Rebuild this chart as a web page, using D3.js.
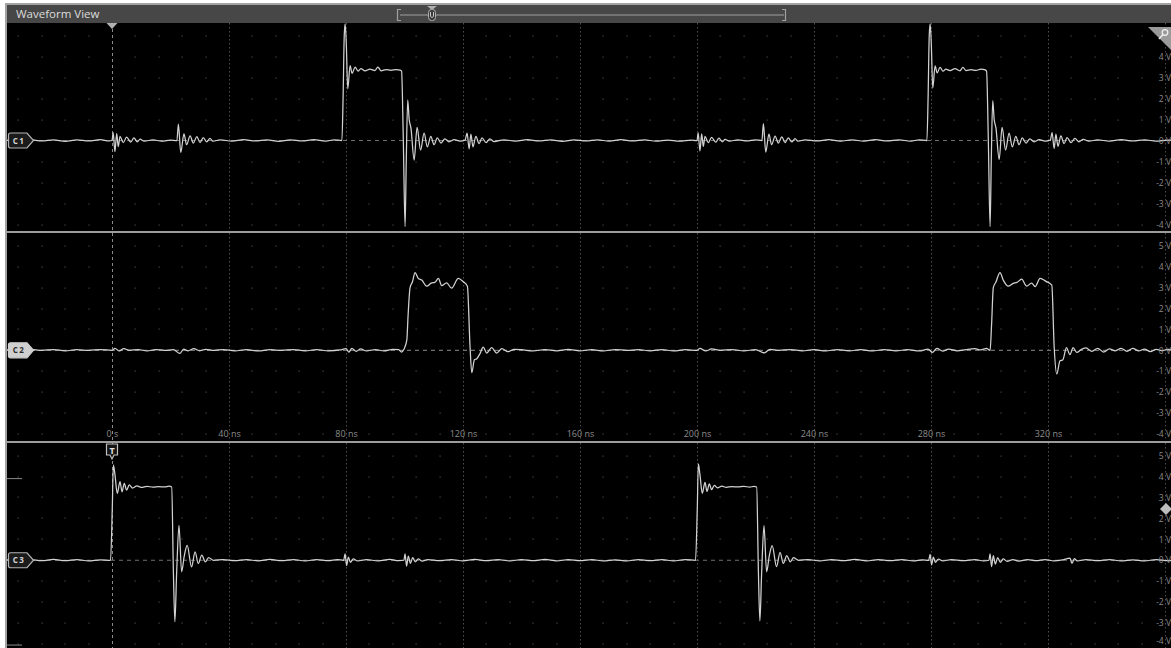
<!DOCTYPE html>
<html>
<head>
<meta charset="utf-8">
<script src="https://cdn.jsdelivr.net/npm/d3@7"></script>
<style>
  html, body { margin: 0; padding: 0; background: #fff; overflow: hidden; }
  svg { display: block; }
</style>
</head>
<body>
<svg id="scope" width="1171" height="648"></svg>
<script>
// ---- axis ticks ----
const timeTicks = [0, 40, 80, 120, 160, 200, 240, 280, 320];      // ns
const voltTicksC1 = [-4, -3, -2, -1, 0, 1, 2, 3, 4];                // V
const voltTicksC2 = [-4, -3, -2, -1, 0, 1, 2, 3, 4, 5];
const voltTicksC3 = [-4, -3, -2, -1, 0, 1, 2, 3, 4, 5];
const channelNames = ["C1", "C2", "C3"];
const triggerTime = 0;      // ns
const triggerLevelC3 = 2.45; // V

// ---- acquired samples: [time ns, volts] ----
const ch1 = [
  [-36,0.02],[-32,-0.03],[-28,0.04],[-24,-0.02],[-20,0.03],[-16,-0.04],[-12,0.03],[-8,-0.02],[-4,0.04],[-1,-0.02],
  [0,0.0],[0.4,0.37],[1.0,-0.53],[1.6,0.33],[2.15,-0.29],[2.75,0.2],[3.85,-0.1],[5.0,0.16],[6.4,-0.08],[7.5,0.12],[8.65,-0.06],[9.6,0.06],[11,-0.03],
  [14,0.03],[17,-0.03],[20,0.02],[22.2,0.0],[22.7,0.78],[23.5,-0.57],[24.6,0.31],[25.5,-0.2],[26.7,0.22],[27.8,-0.12],[29.0,0.18],[30.1,-0.1],[31.2,0.14],[32.4,-0.07],[33.5,0.1],[34.5,-0.03],
  [37,0.03],[41,-0.03],[45,0.04],[49,-0.02],[53,0.03],[57,-0.04],[61,0.03],[65,-0.02],[69,0.04],[73,-0.03],[76,0.03],[78.6,0.0],
  [79.0,2.0],[79.4,5.0],[79.7,5.55],[80.1,4.6],[80.6,2.46],[81.4,3.56],[82.1,3.2],[83.1,3.5],[84.1,3.3],[85.1,3.42],[86.5,3.32],[88.2,3.4],[89.9,3.33],[90.9,3.5],[92,3.32],[93.7,3.38],[95.4,3.34],[97.1,3.38],[98.5,3.35],[99.0,3.3],
  [99.6,0.0],[100.2,-4.1],[100.6,-1.0],[101.1,1.93],[101.6,1.0],[102.2,0.6],[103.3,-0.93],[104.3,0.63],[105.5,-0.45],[106.7,0.35],[107.8,-0.3],[109,0.2],[110.1,-0.2],[111.2,0.12],[112.5,-0.12],[113.8,0.08],[115.2,-0.06],[117,0.04],[119,-0.03],
  [120.7,0.02],[121.4,0.35],[122.1,-0.4],[122.7,0.3],[123.4,-0.3],[124.4,0.2],[125.5,-0.15],[126.5,0.12],[127.9,-0.1],[129.2,0.08],[130.6,-0.05],
  [134,0.03],[138,-0.03],[142,0.04],[146,-0.02],[150,0.03],[154,-0.04],[158,0.03],[162,-0.02],[166,0.03],[170,-0.03],[174,0.04],[178,-0.02],[182,0.03],[186,-0.03],[190,0.02],[194,-0.03],[198,0.02],
  [200,0.0],[200.4,0.36],[201.0,-0.5],[201.6,0.32],[202.15,-0.28],[202.75,0.2],[203.85,-0.1],[205.0,0.15],[206.4,-0.08],[207.5,0.11],[208.65,-0.06],[209.6,0.05],[211,-0.03],
  [214,0.03],[217,-0.02],[220,0.03],[222.2,0.0],[222.7,0.8],[223.5,-0.55],[224.6,0.3],[225.5,-0.2],[226.7,0.21],[227.8,-0.12],[229,0.17],[230.1,-0.1],[231.2,0.13],[232.4,-0.07],[233.5,0.09],[234.5,-0.03],
  [237,0.03],[241,-0.02],[245,0.04],[249,-0.03],[253,0.03],[257,-0.03],[261,0.04],[265,-0.02],[269,0.03],[273,-0.03],[276,0.03],[278.6,0.0],
  [279.0,2.0],[279.4,5.0],[279.7,5.55],[280.1,4.6],[280.6,2.5],[281.4,3.55],[282.1,3.22],[283.1,3.48],[284.1,3.3],[285.1,3.4],[286.5,3.33],[288.2,3.42],[289.9,3.32],[290.9,3.48],[292,3.33],[293.7,3.37],[295.4,3.34],[297.1,3.4],[298.5,3.36],[299.0,3.3],
  [299.6,0.0],[300.2,-4.1],[300.6,-1.0],[301.1,1.9],[301.6,1.0],[302.2,0.6],[303.3,-0.9],[304.3,0.62],[305.5,-0.45],[306.7,0.35],[307.8,-0.3],[309,0.2],[310.1,-0.2],[311.2,0.12],[312.5,-0.12],[313.8,0.08],[315.2,-0.06],[317,0.04],[319,-0.03],
  [320.8,0.02],[321.4,0.38],[322.1,-0.38],[322.7,0.3],[323.4,-0.28],[324.4,0.22],[325.5,-0.15],[326.5,0.14],[327.9,-0.1],[329.2,0.1],[330.6,-0.06],[332,0.05],[334,-0.03],
  [337,0.03],[341,-0.03],[345,0.04],[349,-0.02],[353,0.03],[357,-0.03],[361,0.02],[363,0.0]
];

const ch2 = [
  [-36,0.02],[-32,-0.02],[-28,0.05],[-24,0.0],[-20,0.04],[-16,-0.02],[-12,0.03],[-8,0.0],[-4,0.04],[0,0.0],[1,0.1],[2.5,-0.03],[4,0.08],[6,0.0],[9,0.04],[12,-0.03],[15,0.04],[18,0.0],[21,0.03],[23.2,-0.15],[24.5,0.06],[26,-0.02],[28,0.08],[30,-0.02],[32,0.05],[35,0.0],[38,0.04],[42,-0.02],[46,0.03],[50,-0.03],[54,0.03],[58,0.0],[62,0.04],[66,-0.02],[70,0.03],[74,-0.02],[78,0.02],[80,0.08],[81,-0.08],[82,0.1],[83.5,-0.05],[85,0.07],[87,-0.03],[90,0.04],[93,-0.03],[96,0.05],[98,0.03],[99.0,-0.08],[99.8,0.05],
  [100.8,0.5],[101.2,1.6],[101.9,3.0],[102.7,3.27],[103.6,3.72],[104.7,3.44],[105.9,3.36],[107.6,3.07],[109.3,3.23],[110.4,3.25],[111.6,3.44],[112.7,3.1],[114.4,3.23],[116.1,2.97],[118.4,3.44],[120.1,3.28],[121.5,3.07],
  [122.4,0.2],[123.0,-1.07],[123.9,-0.45],[124.7,-0.4],[125.8,-0.16],[126.9,0.16],[128.1,-0.13],[129.8,0.13],[131.5,-0.13],[133.3,0.08],[135.4,-0.06],[137.5,0.05],
  [140,0.03],[144,-0.03],[148,0.04],[152,-0.02],[156,0.05],[160,-0.02],[164,0.03],[168,-0.03],[172,0.04],[176,0.0],[180,0.03],[184,-0.02],[188,0.04],[192,-0.03],[196,0.03],[200,0.0],[201,0.09],[203,-0.03],[205,0.07],[208,0.0],[212,0.04],[216,-0.03],[220,0.04],[223,-0.12],[225,0.05],[228,0.0],[232,0.04],[236,-0.02],[240,0.03],[244,-0.03],[248,0.04],[252,-0.02],[256,0.03],[260,-0.03],[264,0.04],[268,-0.02],[272,0.03],[276,-0.03],[279,0.06],[280.5,-0.1],[282,0.09],[284,-0.04],[286,0.06],[289,-0.02],[292,0.04],[295,0.08],[297,0.02],[299,0.09],[300.2,0.0],
  [300.7,1.2],[301.3,3.0],[302.2,3.27],[303.6,3.72],[304.7,3.36],[306.4,3.07],[308.1,3.2],[309.4,3.25],[311.0,3.4],[312.7,3.07],[314.4,3.22],[315.6,3.05],[317.3,3.44],[319.3,3.3],[321.3,3.12],
  [322.1,0.2],[323.0,-1.13],[324.1,-0.5],[325.1,-0.45],[326.3,0.13],[327.5,-0.2],[328.6,0.13],[329.8,-0.1],[331.5,0.05],
  [333,0.12],[335,-0.05],[337,0.1],[339,-0.08],[341,0.07],[343,-0.02],[345,0.1],[347,-0.05],[349,0.1],[351,-0.03],[353,0.06],[355,-0.06],[357,0.05],[359,-0.02],[361,0.05],[363,0.0]
];

const ch3 = [
  [-36,0.02],[-32,-0.03],[-28,0.03],[-24,-0.02],[-20,0.04],[-16,-0.02],[-12,0.03],[-8,-0.03],[-4,0.02],[-0.5,0.0],
  [0.1,2.5],[0.46,4.55],[1.0,4.1],[1.8,3.19],[2.74,3.75],[3.42,3.27],[4.2,3.67],[5.0,3.35],[5.9,3.6],[7.0,3.45],[8.5,3.55],[10,3.48],[12,3.53],[14,3.49],[16,3.52],[18,3.5],[19.5,3.54],[20.4,3.5],
  [21.0,-0.63],[21.5,-2.94],[22.1,-0.6],[22.9,1.67],[23.8,-0.55],[24.7,0.2],[25.7,0.71],[27.2,-0.32],[28.4,0.4],[29.5,-0.16],[30.7,0.24],[31.9,-0.08],[33.0,0.13],[34.7,0.0],
  [38,0.03],[42,-0.02],[46,0.03],[50,-0.03],[54,0.04],[58,-0.02],[62,0.03],[66,-0.03],[70,0.03],[74,-0.02],[77,0.03],[79.2,0.0],
  [79.7,0.3],[80.2,-0.25],[80.8,0.15],[81.5,-0.1],[82.5,0.06],[84,-0.03],
  [87,0.03],[91,-0.03],[95,0.04],[98,-0.02],[99.8,0.0],[100.2,0.3],[100.7,-0.28],[101.3,0.2],[102,-0.15],[102.8,0.12],[103.7,-0.08],[104.7,0.06],[106,-0.04],[108,0.03],
  [112,-0.02],[116,0.03],[120,-0.03],[124,0.04],[128,-0.02],[132,0.03],[136,-0.03],[140,0.03],[144,-0.02],[148,0.04],[152,-0.03],[156,0.03],[160,-0.02],[164,0.03],[168,-0.03],[172,0.02],[176,-0.03],[180,0.03],[184,-0.02],[188,0.03],[192,-0.03],[196,0.03],[199.5,0.0],
  [200.1,2.5],[200.46,4.6],[201.0,4.1],[201.8,3.2],[202.74,3.72],[203.42,3.28],[204.2,3.65],[205.0,3.37],[205.9,3.58],[207.0,3.46],[208.5,3.54],[210,3.48],[212,3.52],[214,3.5],[216,3.53],[218,3.49],[219.5,3.53],[220.4,3.5],
  [221.0,-0.6],[221.5,-2.9],[222.1,-0.6],[222.9,1.65],[223.8,-0.55],[224.7,0.2],[225.7,0.7],[227.2,-0.3],[228.4,0.38],[229.5,-0.15],[230.7,0.22],[231.9,-0.08],[233,0.12],[234.7,0.0],
  [238,0.03],[242,-0.03],[246,0.03],[250,-0.02],[254,0.04],[258,-0.03],[262,0.03],[266,-0.02],[270,0.03],[274,-0.03],[277,0.02],[279.2,0.0],
  [279.7,0.28],[280.2,-0.22],[280.8,0.15],[281.5,-0.1],[282.5,0.05],[284,-0.03],
  [287,0.03],[291,-0.02],[295,0.03],[298,-0.03],[299.8,0.0],[300.2,0.3],[300.7,-0.3],[301.3,0.22],[302,-0.18],[302.8,0.12],[303.7,-0.1],[304.7,0.06],[306,-0.05],[308,0.03],
  [310,-0.04],[313,0.03],[316,-0.02],[319,0.03],[322,-0.03],[325,0.02],[327.5,0.1],[328.2,-0.15],[329,0.08],[330,-0.03],[333,0.03],[337,-0.02],[341,0.03],[345,-0.03],[349,0.02],[353,-0.03],[357,0.03],[361,-0.02],[363,0.0]
];

// ---- layout ----
const W = 1171, H = 648;
const plotLeft = 7, plotRight = W;
const FONT = "'Open Sans', 'DejaVu Sans', sans-serif";

const panels = [
  { name: channelNames[0], data: ch1, ticks: voltTicksC1, top: 23,  bottom: 231, yTop4: 56.5,  yBotM4: 224.5, badgeFilled: false },
  { name: channelNames[1], data: ch2, ticks: voltTicksC2, top: 233, bottom: 441, yTop4: 266.7, yBotM4: 434,   badgeFilled: true  },
  { name: channelNames[2], data: ch3, ticks: voltTicksC3, top: 443, bottom: 648, yTop4: 476.5, yBotM4: 644,   badgeFilled: false }
];

const x = d3.scaleLinear().domain([0, 320]).range([112, 1048]);
const tMin = x.invert(plotLeft), tMax = x.invert(plotRight);

const svg = d3.select("#scope");

// frame, title bar and screen
svg.append("rect").attr("x", 5).attr("y", 3).attr("width", W - 5).attr("height", H - 3).attr("fill", "#a3a3a3");
svg.append("rect").attr("x", 7).attr("y", 5).attr("width", W - 7).attr("height", 18).attr("fill", "#474747");
svg.append("rect").attr("x", plotLeft).attr("y", 23).attr("width", W - plotLeft).attr("height", H - 23).attr("fill", "#000");

svg.append("text").attr("x", 16).attr("y", 18)
  .attr("font-family", FONT).attr("font-size", 11.5).attr("fill", "#dcdcdc")
  .text("Waveform View");

// overview / zoom bar in the title strip
const ov = svg.append("g").attr("stroke", "#a0a0a0").attr("fill", "none").attr("stroke-width", 1.2);
ov.append("line").attr("x1", 400).attr("x2", 784).attr("y1", 15).attr("y2", 15);
ov.append("path").attr("d", "M401,9.5 H397.5 V20.5 H401");
ov.append("path").attr("d", "M782,9.5 H785.5 V20.5 H782");
svg.append("path").attr("d", "M427,6 L437,6 L432,10 Z").attr("fill", "#b0b0b0");
svg.append("rect").attr("x", 428.5).attr("y", 9.5).attr("width", 7).attr("height", 11).attr("rx", 3)
  .attr("fill", "#3a3a3a").attr("stroke", "#b0b0b0").attr("stroke-width", 1);
svg.append("path").attr("d", "M430.5,12 V16.5 Q432,18.5 433.5,16.5 V12").attr("fill", "none").attr("stroke", "#c8c8c8").attr("stroke-width", 1);

const defs = svg.append("defs");
const minorTimes = d3.range(-32, 362, 8).filter(t => t % 40 !== 0);

panels.forEach((p, i) => {
  const y = d3.scaleLinear().domain([-4, 4]).range([p.yBotM4, p.yTop4]);
  const clipId = "clip" + i;
  defs.append("clipPath").attr("id", clipId)
    .append("rect").attr("x", plotLeft).attr("y", p.top).attr("width", W - plotLeft).attr("height", p.bottom - p.top);

  const g = svg.append("g").attr("clip-path", `url(#${clipId})`);

  // grid: dots at every minor time division and every volt
  const vRows = d3.range(-5, 7).filter(v => v !== 0);
  const dots = [];
  minorTimes.forEach(t => vRows.forEach(v => dots.push([t, v])));
  g.append("g").selectAll("rect").data(dots).join("rect")
    .attr("x", d => Math.round(x(d[0])) - 0.5).attr("y", d => Math.round(y(d[1])) - 0.5)
    .attr("width", 1.2).attr("height", 1.2).attr("fill", "#4a4a4a");

  // major time divisions
  g.append("g").selectAll("line").data(d3.range(-40, 400, 40)).join("line")
    .attr("x1", d => Math.round(x(d)) + 0.5).attr("x2", d => Math.round(x(d)) + 0.5)
    .attr("y1", p.top).attr("y2", p.bottom)
    .attr("stroke", d => d === triggerTime ? "#8a8a8a" : "#4e4e4e")
    .attr("stroke-width", 1)
    .attr("stroke-dasharray", d => d === triggerTime ? "3,3" : "1.5,2.5");

  // channel ground reference
  g.append("line").attr("x1", plotLeft).attr("x2", W)
    .attr("y1", y(0)).attr("y2", y(0))
    .attr("stroke", "#707070").attr("stroke-width", 1.2).attr("stroke-dasharray", "4,4");

  // time labels at the bottom of the second pane
  if (i === 1) {
    const ax = d3.axisBottom(x).tickValues(timeTicks).tickSize(0).tickPadding(0)
      .tickFormat(d => d === 0 ? "0 s" : d + " ns");
    const axg = g.append("g").attr("transform", `translate(0,${p.bottom - 10})`).call(ax);
    axg.select(".domain").remove();
    axg.selectAll("text").attr("font-family", FONT).attr("font-size", 9).attr("fill", "#8c8c8c");
  }

  // trace
  const line = d3.line().x(d => x(d[0])).y(d => y(d[1])).curve(d3.curveMonotoneX);
  g.append("path").datum(p.data.filter(d => d[0] >= tMin - 2 && d[0] <= tMax + 2))
    .attr("d", line).attr("fill", "none")
    .attr("stroke", "#d2d2d2").attr("stroke-width", 1.25)
    .attr("stroke-linejoin", "round");

  // volt labels on the right edge (kept inside the screen)
  const ay = d3.axisLeft(y).tickValues(p.ticks).tickSize(0).tickPadding(0)
    .tickFormat(d => (d < 0 ? "-" + (-d) : String(d)) + " V");
  const ayg = svg.append("g").attr("transform", `translate(${W},0)`).call(ay);
  ayg.select(".domain").remove();
  ayg.selectAll("text").attr("font-family", FONT).attr("font-size", 8.5).attr("fill", "#8a8a8a")
    .attr("dy", d => (y(d) > H - 6) ? "-0.1em" : "0.32em");

  // channel badge
  const yc = y(0);
  const bx = 8.5, bh = 7.5;
  svg.append("path")
    .attr("d", `M${bx + 2},${yc - bh} H27 L33.5,${yc} L27,${yc + bh} H${bx + 2} Q${bx},${yc + bh} ${bx},${yc + bh - 2} V${yc - bh + 2} Q${bx},${yc - bh} ${bx + 2},${yc - bh} Z`)
    .attr("fill", p.badgeFilled ? "#cfcfcf" : "#1b1b1b")
    .attr("stroke", p.badgeFilled ? "#cfcfcf" : "#b4b4b4").attr("stroke-width", 1.2);
  svg.append("text").attr("x", 19).attr("y", yc + 3)
    .attr("text-anchor", "middle").attr("font-family", FONT).attr("font-size", 8).attr("font-weight", 700)
    .attr("letter-spacing", 1.5)
    .attr("fill", p.badgeFilled ? "#2a2a2a" : "#d6d6d6")
    .text(p.name);

  p.y = y;
});

// pane separators
[232, 442].forEach(yy => {
  svg.append("line").attr("x1", plotLeft).attr("x2", W).attr("y1", yy).attr("y2", yy)
    .attr("stroke", "#9c9c9c").attr("stroke-width", 2);
});

// trigger position marker on the first pane
const tx = x(triggerTime);
svg.append("path").attr("d", `M${tx - 5.5},23 L${tx + 5.5},23 L${tx},29 Z`).attr("fill", "#b0b0b0");

// trigger flag on the third pane
svg.append("path")
  .attr("d", `M${tx - 5.5},444 H${tx + 5.5} V455 L${tx + 2},455 L${tx},459 L${tx - 2},455 H${tx - 5.5} Z`)
  .attr("fill", "#141414").attr("stroke", "#c0c0c0").attr("stroke-width", 1.2);
svg.append("text").attr("x", tx).attr("y", 453.5).attr("text-anchor", "middle")
  .attr("font-family", FONT).attr("font-size", 9).attr("font-weight", 700).attr("fill", "#e0e0e0").text("T");

// trigger level marker on the third pane
const ty = panels[2].y(triggerLevelC3);
svg.append("path").attr("d", `M${W - 11},${ty} L${W - 5},${ty - 6} L${W + 1},${ty} L${W - 5},${ty + 6} Z`).attr("fill", "#bdbdbd");

// short level ticks on the left of the third pane
[panels[2].y(3.9), panels[2].y(-4.05)].forEach(yy => {
  svg.append("line").attr("x1", plotLeft).attr("x2", 22).attr("y1", yy).attr("y2", yy)
    .attr("stroke", "#8a8a8a").attr("stroke-width", 1);
});

// probe corner tab on the first pane
svg.append("path").attr("d", `M1148,27 L${W},27 L${W},50 Z`).attr("fill", "#9a9a9a");
svg.append("circle").attr("cx", 1165).attr("cy", 32.5).attr("r", 2.8).attr("fill", "none").attr("stroke", "#eeeeee").attr("stroke-width", 1.3);
svg.append("line").attr("x1", 1163).attr("y1", 34.5).attr("x2", 1159).attr("y2", 39).attr("stroke", "#eeeeee").attr("stroke-width", 1.5);
</script>
</body>
</html>
